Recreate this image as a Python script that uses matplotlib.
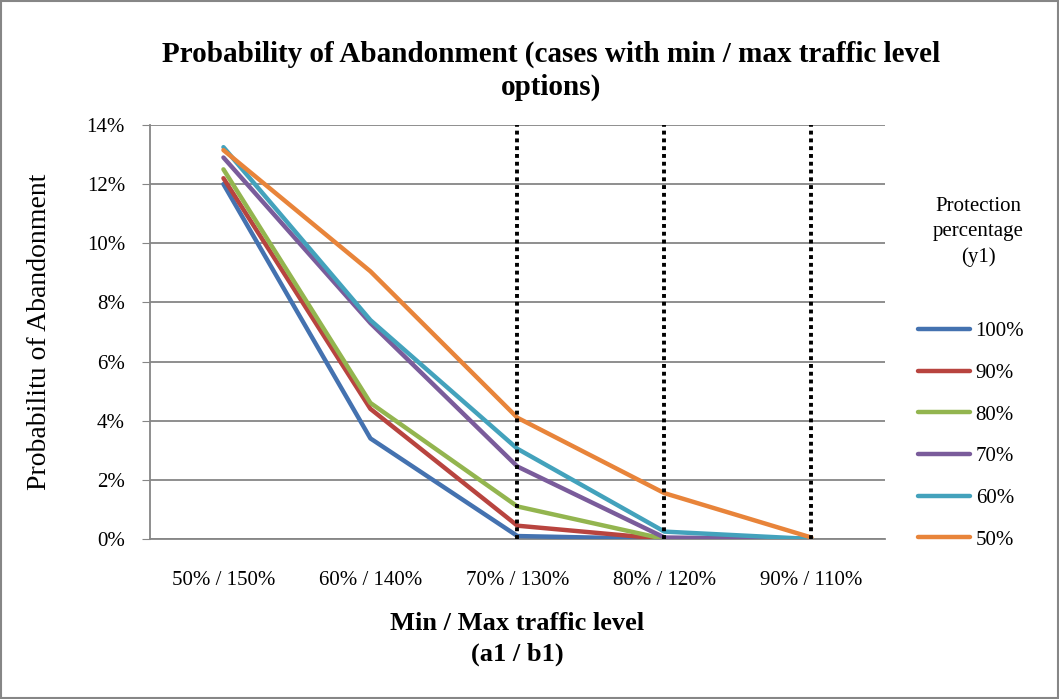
import matplotlib
matplotlib.use("Agg")
import matplotlib.pyplot as plt
from matplotlib.patches import Rectangle

plt.rcParams['font.family'] = ['Liberation Serif', 'DejaVu Serif']

categories = ['50% / 150%', '60% / 140%', '70% / 130%', '80% / 120%', '90% / 110%']
series_names = ['100%', '90%', '80%', '70%', '60%', '50%']
p100 = [12.0, 3.4, 0.1, 0.0, 0.0]
p90 = [12.2, 4.4, 0.45, 0.0, 0.0]
p80 = [12.5, 4.6, 1.1, 0.0, 0.0]
p70 = [12.9, 7.3, 2.45, 0.05, 0.0]
p60 = [13.25, 7.4, 3.05, 0.25, 0.0]
p50 = [13.15, 9.05, 4.1, 1.55, 0.05]
marked = ['70% / 130%', '80% / 120%', '90% / 110%']

colors = ['#4472B0', '#B8443F', '#93B54F', '#7A5C9B', '#43A2BC', '#E8843A']
values = [p100, p90, p80, p70, p60, p50]

fig = plt.figure(figsize=(10.59, 6.99), dpi=100)
ax = fig.add_axes([0.1416, 0.2289, 0.694, 0.5923])

x = list(range(len(categories)))
for name, vals, c in zip(series_names, values, colors):
    ax.plot(x, vals, color=c, linewidth=3.2, label=name, solid_capstyle='round', zorder=3)

# dotted markers on the selected min / max levels
for m in marked:
    ax.axvline(categories.index(m), color='black', linestyle=(0, (1, 1)), linewidth=2.8, zorder=4)

ax.set_xlim(-0.5, len(categories) - 0.5)
ax.set_ylim(0, 14)
ax.set_yticks(range(0, 15, 2))
ax.set_yticklabels([f'{v}%' for v in range(0, 15, 2)], fontsize=15)
ax.set_xticks(x)
ax.set_xticklabels(categories, fontsize=15)
ax.tick_params(axis='x', length=0, pad=23)
ax.tick_params(axis='y', length=6, color='#868686', pad=12)
ax.grid(axis='y', color='#868686', linewidth=1.3)
ax.set_axisbelow(True)
for s in ['top', 'right']:
    ax.spines[s].set_visible(False)
for s in ['left', 'bottom']:
    ax.spines[s].set_color('#868686')
    ax.spines[s].set_linewidth(1.3)

ax.set_ylabel('Probabilitu of Abandonment', fontsize=20, labelpad=25)
ax.set_xlabel('Min / Max traffic level\n(a1 / b1)', fontsize=19, fontweight='bold', labelpad=16,
              linespacing=1.4)
fig.suptitle('Probability of Abandonment (cases with min / max traffic level\noptions)',
             fontsize=21, fontweight='bold', x=0.52, y=0.942, linespacing=1.3)

leg = ax.legend(loc='upper left', bbox_to_anchor=(1.02, 0.57), frameon=False, fontsize=15,
                handlelength=2.5, handletextpad=0.25, labelspacing=1.06)
fig.text(0.924, 0.668, 'Protection\npercentage\n(y1)', ha='center', va='center', fontsize=15,
         linespacing=1.4)

fig.patches.append(Rectangle((0.001, 0.001), 0.998, 0.998, transform=fig.transFigure,
                             fill=False, edgecolor='#868686', linewidth=1.5))

fig.savefig('out.png', dpi=100)
